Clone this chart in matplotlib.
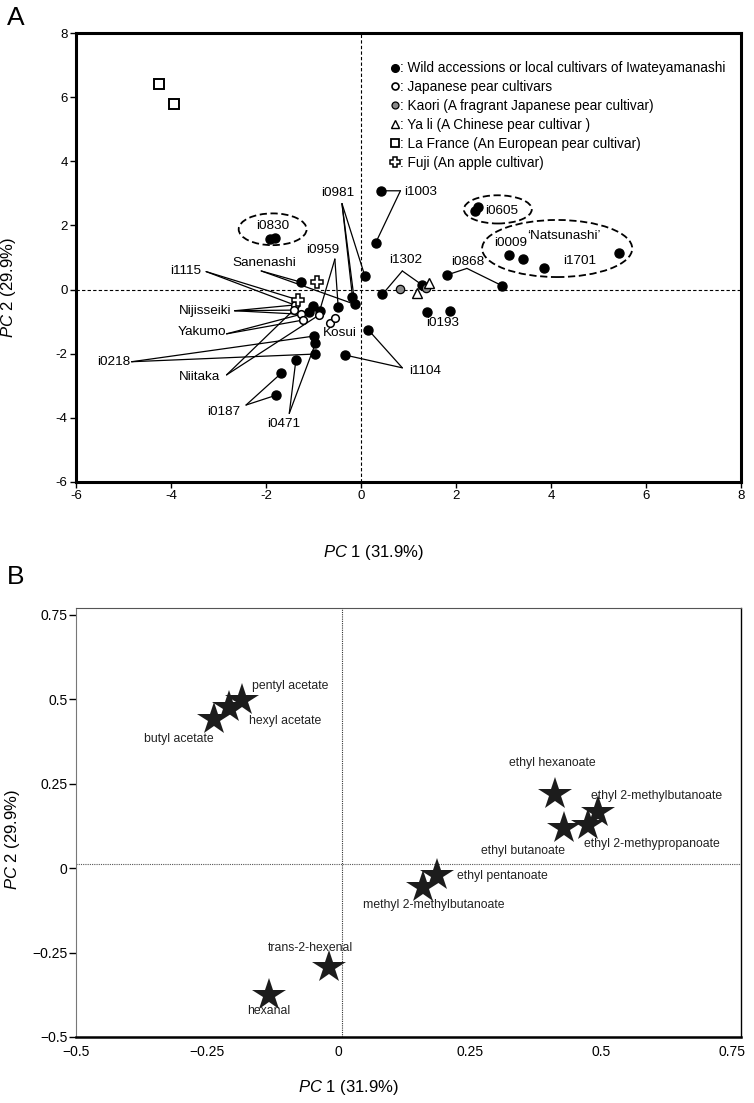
import matplotlib
matplotlib.use("Agg")
import matplotlib.pyplot as plt
from matplotlib.patches import Ellipse
from matplotlib.lines import Line2D

plt.rcParams['font.family'] = ['Liberation Sans', 'DejaVu Sans']
plt.rcParams['mathtext.fontset'] = 'custom'
plt.rcParams['mathtext.it'] = 'Liberation Sans:italic'
plt.rcParams['mathtext.rm'] = 'Liberation Sans'

# ---- panel A data (PC scores) ----
wild_x = [-1.91, -1.82, -1.26, 0.08, -0.18, -0.13, -0.48, -1.02, -1.09, -0.87,
          -0.99, -0.96, -0.96, -1.37, -1.68, -1.78, -0.34, 0.15, 0.43, 0.31,
          0.45, 1.29, 1.82, 2.97, 1.39, 1.87, 2.40, 2.47, 3.12, 3.40, 3.85, 5.44]
wild_y = [1.58, 1.61, 0.23, 0.43, -0.22, -0.46, -0.55, -0.51, -0.69, -0.66,
          -1.45, -1.68, -2.01, -2.19, -2.61, -3.29, -2.04, -1.25, 3.08, 1.46,
          -0.15, 0.14, 0.46, 0.12, -0.71, -0.66, 2.46, 2.59, 1.08, 0.94, 0.66, 1.15]
jp_x = [-1.40, -1.42, -1.26, -1.22, -0.88, -0.65, -0.55]
jp_y = [-0.48, -0.64, -0.77, -0.95, -0.79, -1.05, -0.90]
kaori_x = [0.82, 1.37]
kaori_y = [0.02, 0.06]
yali_x = [1.17, 1.44]
yali_y = [-0.12, 0.20]
lafrance_x = [-4.26, -3.94]
lafrance_y = [6.41, 5.79]
fuji_x = [-0.92, -1.33]
fuji_y = [0.23, -0.32]

legend_labels = [
    ": Wild accessions or local cultivars of Iwateyamanashi",
    ": Japanese pear cultivars",
    ": Kaori (A fragrant Japanese pear cultivar)",
    ": Ya li (A Chinese pear cultivar )",
    ": La France (An European pear cultivar)",
    ": Fuji (An apple cultivar)",
]

# label text, text position, leader start, targets (group, index)
a_labels = [
    ("i0981", (-0.50, 3.00), (-0.40, 2.68), [("w", 3), ("w", 4), ("w", 5)]),
    ("i1003", (1.25, 3.05), (0.83, 3.08), [("w", 18), ("w", 19)]),
    ("i0959", (-0.80, 1.23), (-0.55, 0.95), [("w", 9), ("w", 6)]),
    ("Sanenashi", (-2.03, 0.84), (-2.10, 0.58), [("w", 2), ("w", 5)]),
    ("i1115", (-3.69, 0.59), (-3.26, 0.56), [("f", 1), ("j", 0)]),
    ("Nijisseiki", (-3.28, -0.66), (-2.66, -0.66), [("j", 0), ("j", 1), ("j", 2)]),
    ("Yakumo", (-3.34, -1.33), (-2.83, -1.38), [("j", 2), ("j", 3)]),
    ("i0218", (-5.20, -2.25), (-4.83, -2.25), [("w", 10), ("w", 12)]),
    ("Niitaka", (-3.39, -2.72), (-2.83, -2.66), [("j", 1), ("j", 4)]),
    ("i0187", (-2.90, -3.83), (-2.42, -3.60), [("w", 14), ("w", 15)]),
    ("i0471", (-1.62, -4.20), (-1.51, -3.86), [("w", 13), ("w", 11)]),
    ("i1104", (1.34, -2.54), (0.87, -2.44), [("w", 17), ("w", 16)]),
    ("i1302", (0.95, 0.92), (0.87, 0.58), [("w", 20), ("w", 21)]),
    ("i0868", (2.25, 0.85), (2.23, 0.66), [("w", 22), ("w", 23)]),
    ("Kosui", (-0.44, -1.36), None, []),
    ("i0193", (1.71, -1.05), None, []),
    ("i0830", (-1.86, 1.98), None, []),
    ("i0605", (2.96, 2.46), None, []),
    ("i0009", (3.14, 1.44), None, []),
    ("\u2018Natsunashi\u2019", (4.27, 1.67), None, []),
    ("i1701", (4.61, 0.90), None, []),
]
# dashed ellipses: center, width, height
a_groups = [((-1.86, 1.88), 1.43, 0.99), ((2.88, 2.50), 1.43, 0.88), ((4.13, 1.28), 3.16, 1.78)]

# ---- panel B data (loadings) ----
comp_names = ["pentyl acetate", "hexyl acetate", "butyl acetate", "ethyl hexanoate",
              "ethyl 2-methylbutanoate", "ethyl 2-methypropanoate", "ethyl butanoate",
              "ethyl pentanoate", "methyl 2-methylbutanoate", "trans-2-hexenal", "hexanal"]
comp_x = [-0.184, -0.209, -0.237, 0.412, 0.495, 0.476, 0.429, 0.188, 0.161, -0.018, -0.132]
comp_y = [0.497, 0.476, 0.440, 0.220, 0.165, 0.129, 0.120, -0.020, -0.055, -0.294, -0.375]
# label position, alignment
comp_lab = [((-0.165, 0.540), 'left'), ((-0.171, 0.434), 'left'), ((-0.370, 0.383), 'left'),
            ((0.407, 0.311), 'center'), ((0.481, 0.212), 'left'), ((0.467, 0.072), 'left'),
            ((0.352, 0.050), 'center'), ((0.226, -0.024), 'left'), ((0.181, -0.110), 'center'),
            ((-0.054, -0.237), 'center'), ((-0.132, -0.423), 'center')]

a_xticks = [-6, -4, -2, 0, 2, 4, 6, 8]
a_xticklabels = ['-6', '-4', '-2', '0', '2', '4', '6', '8']
a_yticks = [-6, -4, -2, 0, 2, 4, 6, 8]
a_yticklabels = ['-6', '-4', '-2', '0', '2', '4', '6', '8']
b_xticks = [-0.5, -0.25, 0, 0.25, 0.5, 0.75]
b_xticklabels = ['\u22120.5', '\u22120.25', '0', '0.25', '0.5', '0.75']
b_yticks = [-0.5, -0.25, 0, 0.25, 0.5, 0.75]
b_yticklabels = ['\u22120.5', '\u22120.25', '0', '0.25', '0.5', '0.75']

fig = plt.figure(figsize=(7.54, 11.03), dpi=100)

# ================= panel A =================
ax = fig.add_axes([76/754, 1-482/1103, 665/754, 449/1103])
ax.set_xlim(-6, 8)
ax.set_ylim(-6, 8)
ax.axhline(0, color='black', lw=0.8, ls=(0, (3, 2)), zorder=1)
ax.axvline(0, color='black', lw=0.8, ls=(0, (3, 2)), zorder=1)

groups = {"w": (wild_x, wild_y), "j": (jp_x, jp_y), "f": (fuji_x, fuji_y)}
for text, (tx, ty), start, targets in a_labels:
    ax.text(tx, ty, text, ha='center', va='center', fontsize=9.7, zorder=4)
    for g, i in targets:
        px, py = groups[g][0][i], groups[g][1][i]
        ax.annotate('', xy=(px, py), xytext=start,
                    arrowprops=dict(arrowstyle='-', lw=0.9, color='black', shrinkA=0, shrinkB=2),
                    zorder=2)

for (cx, cy), w, h in a_groups:
    ax.add_patch(Ellipse((cx, cy), w, h, fill=False, ls=(0, (4, 2)), lw=1.3, color='black', zorder=2))

ax.plot(wild_x, wild_y, 'o', ms=6.5, color='black', zorder=3)
ax.plot(jp_x, jp_y, 'o', ms=5.5, mfc='white', mec='black', mew=1.1, zorder=3)
ax.plot(kaori_x, kaori_y, 'o', ms=6, mfc='#8a8a8a', mec='black', mew=0.9, zorder=3)
ax.plot(yali_x, yali_y, '^', ms=7, mfc='white', mec='black', mew=1.0, zorder=3)
ax.plot(lafrance_x, lafrance_y, 's', ms=6.5, mfc='white', mec='black', mew=1.4, zorder=3)
ax.plot(fuji_x, fuji_y, 'P', ms=8.5, mfc='white', mec='black', mew=1.1, zorder=3)

handles = [
    Line2D([], [], ls='none', marker='o', ms=5.5, color='black'),
    Line2D([], [], ls='none', marker='o', ms=5, mfc='white', mec='black', mew=1.2),
    Line2D([], [], ls='none', marker='o', ms=5, mfc='#8a8a8a', mec='black', mew=0.9),
    Line2D([], [], ls='none', marker='^', ms=6, mfc='white', mec='black', mew=1.0),
    Line2D([], [], ls='none', marker='s', ms=5.5, mfc='white', mec='black', mew=1.3),
    Line2D([], [], ls='none', marker='P', ms=7.5, mfc='white', mec='black', mew=1.1),
]
ax.legend(handles, legend_labels, loc='upper left', bbox_to_anchor=(0.474, 0.937),
          frameon=False, fontsize=9.8, handlelength=0.6, handletextpad=0.05,
          labelspacing=0.36, borderpad=0, borderaxespad=0)

ax.set_xticks(a_xticks)
ax.set_xticklabels(a_xticklabels)
ax.set_yticks(a_yticks)
ax.set_yticklabels(a_yticklabels)
ax.tick_params(direction='out', length=4, width=1, labelsize=9.5, pad=2)
for s in ax.spines.values():
    s.set_linewidth(2.2)
ax.set_xlabel(r'$\mathit{PC\ 1}$ (31.9%)', fontsize=12)
ax.set_ylabel(r'$\mathit{PC}$ 2 (29.9%)', fontsize=12)
ax.xaxis.set_label_coords(0.447, -0.136)
ax.yaxis.set_label_coords(-0.087, 0.434)
fig.text(16/754, 1-18/1103, 'A', fontsize=19, ha='center', va='center')

# ================= panel B =================
bx = fig.add_axes([76/754, 1-1037/1103, 665/754, 429/1103])
bx.set_xlim(-0.495, 0.767)
bx.set_ylim(-0.49, 0.77)
bx.axhline(0.012, color='#555555', lw=0.8, ls=(0, (1, 1)), zorder=1)
bx.axvline(0.006, color='#333333', lw=0.8, ls=(0, (1, 1)), zorder=1)
bx.plot(comp_x, comp_y, '*', ms=25, color='#1c1c1c', mew=0, zorder=3)
for name, ((lx, ly), ha) in zip(comp_names, comp_lab):
    bx.text(lx, ly, name, ha=ha, va='center', fontsize=8.8, color='#222222', zorder=4)

bx.set_xticks(b_xticks)
bx.set_xticklabels(b_xticklabels)
bx.set_yticks(b_yticks)
bx.set_yticklabels(b_yticklabels)
bx.tick_params(axis='y', direction='out', length=5, width=1, labelsize=10, pad=1)
bx.tick_params(axis='x', length=0, labelsize=10, pad=6)
bx.spines['top'].set_linewidth(0.8)
bx.spines['top'].set_color('#555555')
bx.spines['left'].set_linewidth(0.8)
bx.spines['left'].set_color('#777777')
bx.spines['bottom'].set_linewidth(1.8)
bx.spines['right'].set_linewidth(1.0)
bx.set_xlabel(r'$\mathit{PC}$ 1 (31.9%)', fontsize=12)
bx.set_ylabel(r'$\mathit{PC}$ 2 (29.9%)', fontsize=12)
bx.xaxis.set_label_coords(0.409, -0.095)
bx.yaxis.set_label_coords(-0.081, 0.459)
fig.text(16/754, 1-577/1103, 'B', fontsize=19, ha='center', va='center')

fig.savefig('out.png', dpi=100)
